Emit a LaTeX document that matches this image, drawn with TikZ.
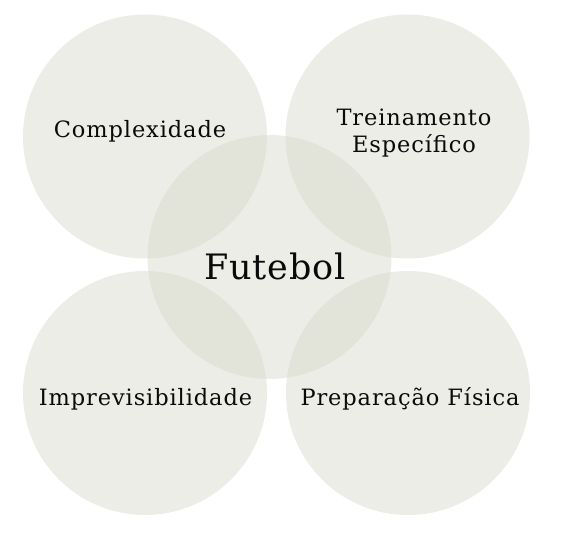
\documentclass[tikz,border=0pt]{standalone}
\usepackage{fontspec}
\setmainfont{DejaVu Serif}[LetterSpace=4]
\newfontfamily\bigfont{DejaVu Serif}[LetterSpace=2]
\definecolor{circfill}{RGB}{215,217,202}
\definecolor{textcol}{RGB}{10,10,10}
\begin{document}
\begin{tikzpicture}[x=1pt,y=-1pt,
  bubble/.style={circle,fill=circfill,fill opacity=0.47,minimum size=244pt,inner sep=0pt},
  lbl/.style={text=textcol,font=\fontsize{22.5}{27}\selectfont,align=center,inner sep=0pt},
  big/.style={text=textcol,font=\bigfont\fontsize{35}{40}\selectfont,inner sep=0pt}]
\useasboundingbox (0,0) rectangle (587,535);
\node[bubble] (c1) at (145,136.5) {};
\node[bubble] (c2) at (407.5,136.5) {};
\node[bubble] (c3) at (145,393) {};
\node[bubble] (c4) at (408,393) {};
\node[bubble] (c0) at (269.5,257) {};
\node[lbl] (t1) at (140,131) {Complexidade};
\node[lbl] (t2) at (414,133) {Treinamento\\Específico};
\node[lbl] (t3) at (145.5,399) {Imprevisibilidade};
\node[lbl] (t4) at (410,399) {Preparação Física};
\node[big] (t0) at (275,266) {Futebol};
\end{tikzpicture}
\end{document}
